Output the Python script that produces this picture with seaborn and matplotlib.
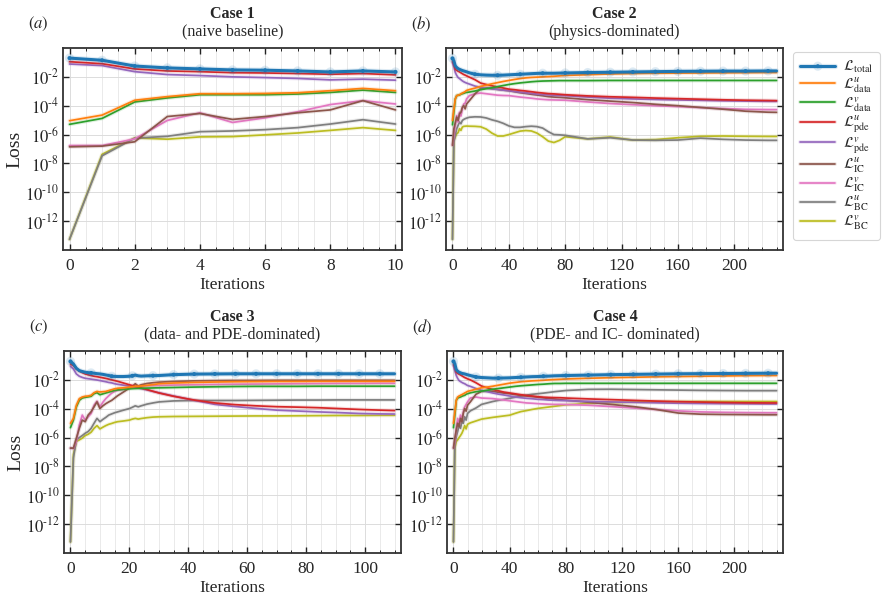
import numpy as np
import matplotlib
matplotlib.use("Agg")
import matplotlib.pyplot as plt
import matplotlib.patheffects as pe
from matplotlib.ticker import MultipleLocator, FixedLocator, FuncFormatter, NullLocator
import seaborn as sns

# ---- series names / labels / colours ----
names = ["total", "data_u", "data_v", "pde_u", "pde_v", "ic_u", "ic_v", "bc_u", "bc_v"]
labels = [r"$\mathcal{L}_{\rm total}$", r"$\mathcal{L}^{u}_{\rm data}$", r"$\mathcal{L}^{v}_{\rm data}$",
          r"$\mathcal{L}^{u}_{\rm pde}$", r"$\mathcal{L}^{v}_{\rm pde}$", r"$\mathcal{L}^{u}_{\rm IC}$",
          r"$\mathcal{L}^{v}_{\rm IC}$", r"$\mathcal{L}^{u}_{\rm BC}$", r"$\mathcal{L}^{v}_{\rm BC}$"]
colors = sns.color_palette("tab10", 9)

# ---- Case 1 (log10 of loss) ----
iters_1 = [0, 1, 2, 3, 4, 5, 6, 7, 8, 9, 10]
case1 = {
    "total":  [-0.70, -0.85, -1.25, -1.38, -1.45, -1.52, -1.54, -1.59, -1.66, -1.59, -1.66],
    "data_u": [-5.04, -4.65, -3.62, -3.37, -3.17, -3.17, -3.15, -3.10, -2.96, -2.80, -2.96],
    "data_v": [-5.29, -4.88, -3.74, -3.46, -3.24, -3.24, -3.24, -3.19, -3.08, -2.92, -3.08],
    "pde_u":  [-0.95, -1.09, -1.45, -1.59, -1.64, -1.71, -1.73, -1.77, -1.82, -1.77, -1.86],
    "pde_v":  [-1.11, -1.22, -1.64, -1.84, -1.91, -2.00, -2.05, -2.11, -2.21, -2.16, -2.23],
    "ic_u":   [-6.85, -6.80, -6.50, -4.75, -4.54, -4.95, -4.75, -4.49, -4.29, -3.65, -4.29],
    "ic_v":   [-6.76, -6.76, -6.30, -5.02, -4.49, -5.16, -4.84, -4.42, -3.92, -3.65, -3.88],
    "bc_u":   [-13.26, -7.47, -6.25, -6.12, -5.80, -5.75, -5.66, -5.52, -5.27, -4.97, -5.27],
    "bc_v":   [-13.26, -7.37, -6.23, -6.32, -6.16, -6.14, -6.02, -5.89, -5.71, -5.52, -5.71],
}

# ---- Case 2 ----
iters_2 = [0, 1, 2, 3, 4, 5, 6, 7, 8, 9, 10, 12, 16, 20, 24, 28, 32, 36, 40, 44, 48, 52, 56, 60,
           64, 68, 72, 76, 80, 96, 112, 128, 144, 160, 176, 192, 208, 224, 230]
case2 = {
    "total":  [-0.72, -0.90, -1.24, -1.35, -1.43, -1.48, -1.52, -1.56, -1.59, -1.62, -1.65, -1.72, -1.82,
               -1.86, -1.88, -1.89, -1.89, -1.88, -1.86, -1.84, -1.82, -1.80, -1.78, -1.76, -1.75, -1.75,
               -1.75, -1.74, -1.73, -1.70, -1.68, -1.66, -1.64, -1.62, -1.61, -1.60, -1.60, -1.59, -1.59],
    "data_u": [-5.02, -4.22, -3.53, -3.30, -3.27, -3.24, -3.18, -3.12, -3.08, -3.02, -2.94, -2.88, -2.78,
               -2.66, -2.58, -2.48, -2.40, -2.32, -2.25, -2.18, -2.12, -2.07, -2.04, -2.02, -2.00, -1.98,
               -1.96, -1.93, -1.90, -1.85, -1.80, -1.77, -1.75, -1.74, -1.73, -1.72, -1.71, -1.70, -1.70],
    "data_v": [-5.32, -4.45, -3.53, -3.30, -3.28, -3.26, -3.20, -3.17, -3.14, -3.10, -3.08, -3.05, -2.98,
               -2.89, -2.82, -2.76, -2.68, -2.60, -2.53, -2.47, -2.42, -2.38, -2.34, -2.31, -2.29, -2.28,
               -2.27, -2.26, -2.26, -2.26, -2.25, -2.25, -2.25, -2.25, -2.25, -2.25, -2.25, -2.25, -2.25],
    "pde_u":  [-0.90, -1.13, -1.47, -1.55, -1.61, -1.66, -1.72, -1.78, -1.84, -1.88, -1.93, -2.02, -2.20,
               -2.43, -2.53, -2.62, -2.70, -2.77, -2.85, -2.89, -2.94, -2.98, -3.03, -3.08, -3.12, -3.16,
               -3.18, -3.21, -3.24, -3.32, -3.38, -3.42, -3.47, -3.51, -3.55, -3.59, -3.62, -3.64, -3.65],
    "pde_v":  [-1.02, -1.29, -1.70, -1.90, -2.05, -2.12, -2.20, -2.28, -2.34, -2.39, -2.43, -2.50, -2.64,
               -2.73, -2.78, -2.83, -2.87, -2.92, -2.96, -3.01, -3.06, -3.10, -3.14, -3.19, -3.22, -3.25,
               -3.27, -3.29, -3.30, -3.40, -3.48, -3.53, -3.57, -3.60, -3.63, -3.66, -3.68, -3.70, -3.70],
    "ic_u":   [-6.74, -5.59, -5.18, -4.79, -5.02, -4.56, -4.45, -4.11, -3.99, -4.22, -3.88, -3.65, -3.18,
               -2.80, -2.76, -2.82, -2.87, -2.92, -2.96, -3.03, -3.10, -3.15, -3.21, -3.26, -3.31, -3.37,
               -3.40, -3.42, -3.45, -3.58, -3.68, -3.78, -3.90, -4.00, -4.12, -4.24, -4.38, -4.45, -4.46],
    "ic_v":   [-6.74, -6.05, -5.36, -4.68, -5.13, -4.45, -4.72, -4.22, -3.88, -3.81, -3.53, -3.30, -3.17,
               -3.12, -3.17, -3.22, -3.27, -3.29, -3.30, -3.35, -3.40, -3.44, -3.48, -3.53, -3.56, -3.59,
               -3.60, -3.61, -3.62, -3.74, -3.85, -3.93, -4.00, -4.06, -4.13, -4.20, -4.25, -4.27, -4.27],
    "bc_u":   [-13.26, -6.51, -6.05, -5.59, -5.36, -5.13, -5.25, -5.02, -4.95, -4.90, -4.86, -4.80, -4.77,
               -4.78, -4.85, -4.98, -5.08, -5.22, -5.40, -5.50, -5.50, -5.45, -5.42, -5.45, -5.55, -5.80,
               -6.00, -6.02, -6.05, -6.30, -6.22, -6.38, -6.40, -6.38, -6.25, -6.33, -6.38, -6.40, -6.40],
    "bc_v":   [-13.26, -6.39, -6.16, -5.94, -5.87, -5.59, -5.71, -5.48, -5.43, -5.42, -5.41, -5.42, -5.43,
               -5.46, -5.62, -5.90, -6.10, -6.10, -6.00, -5.88, -5.76, -5.72, -5.75, -5.90, -6.15, -6.45,
               -6.55, -6.40, -6.15, -6.30, -6.17, -6.38, -6.35, -6.22, -6.12, -6.10, -6.12, -6.13, -6.13],
}

# ---- Case 3 ----
iters_3 = [0, 1, 2, 3, 4, 5, 6, 7, 8, 9, 10, 11, 12, 13, 14, 15, 16, 18, 20, 21, 22, 23, 24, 26, 28,
           30, 35, 42, 49, 56, 63, 70, 77, 84, 91, 98, 105, 110]
case3 = {
    "total":  [-0.72, -0.90, -1.20, -1.36, -1.42, -1.47, -1.50, -1.52, -1.54, -1.57, -1.59, -1.62, -1.66,
               -1.70, -1.75, -1.76, -1.77, -1.77, -1.75, -1.72, -1.67, -1.72, -1.74, -1.72, -1.71, -1.70,
               -1.64, -1.60, -1.59, -1.58, -1.58, -1.58, -1.58, -1.58, -1.58, -1.58, -1.58, -1.58],
    "data_u": [-5.01, -4.67, -3.76, -3.30, -3.19, -3.14, -3.12, -3.07, -2.89, -2.80, -2.84, -2.82, -2.80,
               -2.74, -2.68, -2.62, -2.58, -2.55, -2.50, -2.48, -2.45, -2.44, -2.42, -2.38, -2.33, -2.27,
               -2.22, -2.18, -2.15, -2.13, -2.12, -2.11, -2.11, -2.10, -2.10, -2.10, -2.10, -2.10],
    "data_v": [-5.31, -4.79, -3.87, -3.42, -3.26, -3.21, -3.18, -3.14, -2.96, -2.89, -3.03, -2.97, -2.91,
               -2.85, -2.79, -2.73, -2.70, -2.66, -2.62, -2.61, -2.60, -2.59, -2.58, -2.57, -2.56, -2.55,
               -2.53, -2.50, -2.48, -2.46, -2.45, -2.45, -2.45, -2.44, -2.44, -2.44, -2.44, -2.44],
    "pde_u":  [-0.90, -1.02, -1.25, -1.40, -1.50, -1.59, -1.65, -1.70, -1.75, -1.78, -1.82, -1.86, -1.90,
               -1.95, -2.00, -2.05, -2.10, -2.22, -2.34, -2.40, -2.45, -2.50, -2.56, -2.67, -2.79, -2.91,
               -3.14, -3.40, -3.60, -3.72, -3.80, -3.86, -3.89, -3.93, -3.99, -4.05, -4.10, -4.13],
    "pde_v":  [-1.06, -1.25, -1.59, -1.75, -1.83, -1.89, -1.92, -1.95, -1.98, -2.01, -2.05, -2.09, -2.13,
               -2.18, -2.21, -2.27, -2.31, -2.37, -2.43, -2.47, -2.52, -2.56, -2.61, -2.70, -2.80, -2.89,
               -3.12, -3.42, -3.70, -3.85, -3.98, -4.10, -4.16, -4.22, -4.27, -4.33, -4.36, -4.37],
    "ic_u":   [-6.73, -6.73, -6.04, -5.36, -4.79, -4.90, -4.44, -4.21, -3.87, -3.53, -3.99, -3.80, -3.65,
               -3.53, -3.42, -3.26, -3.10, -2.84, -2.57, -2.45, -2.27, -2.43, -2.34, -2.25, -2.20, -2.16,
               -2.11, -2.07, -2.05, -2.04, -2.04, -2.03, -2.03, -2.03, -2.03, -2.03, -2.03, -2.03],
    "ic_v":   [-6.73, -6.76, -6.27, -5.13, -4.44, -4.79, -4.56, -4.33, -3.76, -3.48, -3.87, -3.55, -3.30,
               -3.10, -2.92, -2.80, -2.73, -2.66, -2.57, -2.52, -2.48, -2.46, -2.43, -2.41, -2.40, -2.39,
               -2.36, -2.34, -2.32, -2.30, -2.29, -2.28, -2.27, -2.26, -2.25, -2.25, -2.24, -2.24],
    "bc_u":   [-13.23, -7.41, -6.16, -6.00, -5.86, -5.70, -5.58, -5.36, -5.01, -4.67, -4.90, -4.74, -4.60,
               -4.44, -4.36, -4.28, -4.22, -4.10, -3.99, -3.90, -3.80, -3.87, -3.80, -3.68, -3.60, -3.53,
               -3.46, -3.43, -3.43, -3.43, -3.42, -3.41, -3.40, -3.40, -3.39, -3.39, -3.39, -3.39],
    "bc_v":   [-13.23, -7.18, -6.27, -6.16, -6.04, -5.86, -5.77, -5.63, -5.36, -5.17, -5.40, -5.28, -5.17,
               -5.08, -5.02, -4.95, -4.90, -4.85, -4.79, -4.72, -4.67, -4.72, -4.68, -4.62, -4.58, -4.56,
               -4.54, -4.53, -4.52, -4.51, -4.50, -4.50, -4.49, -4.48, -4.47, -4.47, -4.46, -4.46],
}

# ---- Case 4 ----
iters_4 = iters_2
case4 = {
    "total":  [-0.72, -0.90, -1.29, -1.40, -1.47, -1.51, -1.55, -1.57, -1.59, -1.62, -1.65, -1.70, -1.80,
               -1.84, -1.86, -1.88, -1.88, -1.87, -1.86, -1.84, -1.82, -1.80, -1.78, -1.77, -1.75, -1.74,
               -1.72, -1.71, -1.70, -1.67, -1.64, -1.62, -1.60, -1.58, -1.57, -1.56, -1.55, -1.54, -1.54],
    "data_u": [-5.01, -4.21, -3.42, -3.19, -3.12, -3.07, -3.02, -2.97, -2.91, -2.86, -2.80, -2.75, -2.65,
               -2.55, -2.50, -2.44, -2.37, -2.30, -2.23, -2.18, -2.13, -2.10, -2.07, -2.05, -2.03, -2.00,
               -1.98, -1.96, -1.94, -1.89, -1.85, -1.82, -1.79, -1.77, -1.75, -1.73, -1.71, -1.70, -1.70],
    "data_v": [-5.31, -4.44, -3.42, -3.26, -3.22, -3.19, -3.14, -3.10, -3.07, -3.00, -2.96, -2.90, -2.82,
               -2.78, -2.72, -2.65, -2.60, -2.55, -2.50, -2.45, -2.41, -2.38, -2.35, -2.32, -2.30, -2.27,
               -2.25, -2.25, -2.24, -2.24, -2.24, -2.24, -2.24, -2.24, -2.24, -2.24, -2.24, -2.24, -2.24],
    "pde_u":  [-0.90, -1.13, -1.47, -1.55, -1.61, -1.66, -1.72, -1.78, -1.84, -1.88, -1.93, -2.00, -2.20,
               -2.43, -2.55, -2.67, -2.76, -2.85, -2.91, -2.97, -3.03, -3.08, -3.12, -3.17, -3.20, -3.22,
               -3.23, -3.24, -3.26, -3.32, -3.37, -3.42, -3.47, -3.51, -3.54, -3.57, -3.59, -3.60, -3.60],
    "pde_v":  [-1.02, -1.36, -1.70, -1.90, -2.05, -2.12, -2.18, -2.23, -2.27, -2.33, -2.39, -2.45, -2.60,
               -2.73, -2.82, -2.91, -2.99, -3.05, -3.12, -3.18, -3.24, -3.28, -3.31, -3.35, -3.37, -3.40,
               -3.42, -3.43, -3.44, -3.49, -3.53, -3.56, -3.59, -3.62, -3.64, -3.65, -3.66, -3.67, -3.67],
    "ic_u":   [-6.73, -6.04, -5.47, -5.01, -5.24, -4.67, -4.90, -4.33, -3.99, -4.17, -3.76, -3.53, -3.00,
               -2.80, -2.78, -2.80, -2.86, -2.92, -2.96, -3.02, -3.08, -3.12, -3.16, -3.20, -3.25, -3.29,
               -3.33, -3.38, -3.41, -3.55, -3.70, -3.85, -4.05, -4.30, -4.38, -4.40, -4.41, -4.42, -4.42],
    "ic_v":   [-6.73, -6.27, -5.36, -4.67, -5.13, -4.44, -4.79, -4.21, -3.87, -3.70, -3.53, -3.26, -3.19,
               -3.26, -3.28, -3.30, -3.35, -3.40, -3.45, -3.50, -3.55, -3.60, -3.62, -3.65, -3.67, -3.69,
               -3.70, -3.70, -3.71, -3.76, -3.85, -3.95, -4.05, -4.15, -4.22, -4.25, -4.27, -4.28, -4.28],
    "bc_u":   [-13.23, -6.50, -5.93, -5.58, -5.13, -5.36, -4.90, -5.01, -4.56, -4.79, -4.33, -4.15, -3.95,
               -3.70, -3.60, -3.50, -3.42, -3.35, -3.28, -3.20, -3.12, -3.06, -3.00, -2.96, -2.92, -2.87,
               -2.82, -2.78, -2.74, -2.66, -2.65, -2.67, -2.69, -2.71, -2.73, -2.74, -2.75, -2.75, -2.75],
    "bc_v":   [-13.23, -6.73, -6.27, -6.16, -6.00, -5.86, -5.70, -5.47, -5.17, -5.40, -5.08, -4.98, -4.85,
               -4.72, -4.66, -4.60, -4.55, -4.50, -4.45, -4.32, -4.20, -4.13, -4.05, -3.98, -3.93, -3.88,
               -3.83, -3.78, -3.73, -3.64, -3.58, -3.54, -3.52, -3.51, -3.50, -3.50, -3.50, -3.50, -3.50],
}

case_titles = ["Case 1", "Case 2", "Case 3", "Case 4"]
case_subtitles = ["(naive baseline)", "(physics-dominated)", "(data- and PDE-dominated)", "(PDE- and IC- dominated)"]

sns.set_theme(style="ticks")
plt.rcParams["font.family"] = ["Liberation Serif", "DejaVu Serif"]
plt.rcParams["mathtext.fontset"] = "stix"

W, H = 887, 599
fig = plt.figure(figsize=(W / 100, H / 100), dpi=100)

# axes boxes in pixels: left, top, right, bottom
boxes = [(63, 48, 402, 250), (446, 48, 783, 250), (64, 351, 401, 553), (447, 351, 783, 553)]
panels = [(iters_1, case1, 2, 0.5, 1), (iters_2, case2, 40, 10, 16),
          (iters_3, case3, 20, 5, 7), (iters_4, case4, 40, 10, 16)]


def sci_label(v, pos):
    e = int(round(np.log10(v)))
    return r"$10^{\text{-}%d}$" % (-e) if e < 0 else r"$10^{%d}$" % e


fmt = FuncFormatter(sci_label)


def halo(lw, c):
    return [pe.Stroke(linewidth=lw + 1.6, foreground=c, alpha=0.15), pe.Normal()]


handles = []
for k, (box, (xs, data, major, minor, mstep)) in enumerate(zip(boxes, panels)):
    l, t, r, b = box
    ax = fig.add_axes([l / W, 1 - b / H, (r - l) / W, (b - t) / H])
    xs = np.array(xs)
    for i, name in enumerate(names):
        yv = 10.0 ** np.array(data[name])
        if name == "total":
            mk = [j for j, v in enumerate(xs) if v % mstep == 0]
            sns.lineplot(x=xs, y=yv, ax=ax, color=colors[i], linewidth=2.2, marker="o",
                         markersize=2.8, markeredgewidth=0, markevery=mk, zorder=10,
                         path_effects=halo(2.2, colors[i]), estimator=None, sort=False)
        else:
            sns.lineplot(x=xs, y=yv, ax=ax, color=colors[i], linewidth=1.25, zorder=5 - i * 0.1,
                         path_effects=halo(1.25, colors[i]), estimator=None, sort=False)
        if k == 0:
            handles.append(ax.lines[-1])
    ax.set_yscale("log")
    ax.set_ylim(1e-14, 1.0)
    ax.yaxis.set_major_locator(FixedLocator([1e-12, 1e-10, 1e-8, 1e-6, 1e-4, 1e-2]))
    ax.yaxis.set_minor_locator(NullLocator())
    ax.yaxis.set_major_formatter(fmt)
    span = xs[-1] - xs[0]
    ax.set_xlim(-0.02 * span, xs[-1] + 0.02 * span)
    ax.xaxis.set_major_locator(MultipleLocator(major))
    ax.xaxis.set_minor_locator(MultipleLocator(minor))
    ax.grid(which="major", color="#dcdcdc", linewidth=0.7)
    ax.grid(which="minor", axis="x", color="#e6e6e6", linewidth=0.6)
    ax.set_axisbelow(True)
    ax.tick_params(which="both", direction="in", top=True, right=True, color="#222222")
    ax.tick_params(axis="y", labelsize=12, pad=3)
    ax.tick_params(axis="x", labelsize=12.5, pad=6)
    ax.tick_params(which="major", length=4, width=1.0)
    ax.tick_params(which="minor", length=2.5, width=0.7)
    for s in ax.spines.values():
        s.set_color("#333333")
        s.set_linewidth(1.3)
    ax.set_xlabel("Iterations", fontsize=12.5, labelpad=2)
    if k in (0, 2):
        ax.set_ylabel("Loss", fontsize=14, labelpad=1)
    else:
        ax.set_ylabel("")
    ax.text(0.5, 1.168, case_titles[k], transform=ax.transAxes, ha="center", va="center",
            fontsize=11.5, fontweight="bold")
    ax.text(0.5, 1.08, case_subtitles[k], transform=ax.transAxes, ha="center", va="center",
            fontsize=11.5)
    fig.text((l - 25) / W, 1 - (t - 24) / H, r"$(%s)$" % "abcd"[k], ha="center", va="center",
             fontsize=12)

leg = fig.legend(handles, labels, loc="upper left", bbox_to_anchor=(793 / W, 1 - 52 / H),
                 borderaxespad=0, fontsize=10.5, handlelength=2.4, handletextpad=0.5,
                 labelspacing=0.0, frameon=True, fancybox=True, edgecolor="#cccccc",
                 borderpad=0.5)
leg.get_frame().set_linewidth(0.8)

fig.savefig("out.png", dpi=100)
